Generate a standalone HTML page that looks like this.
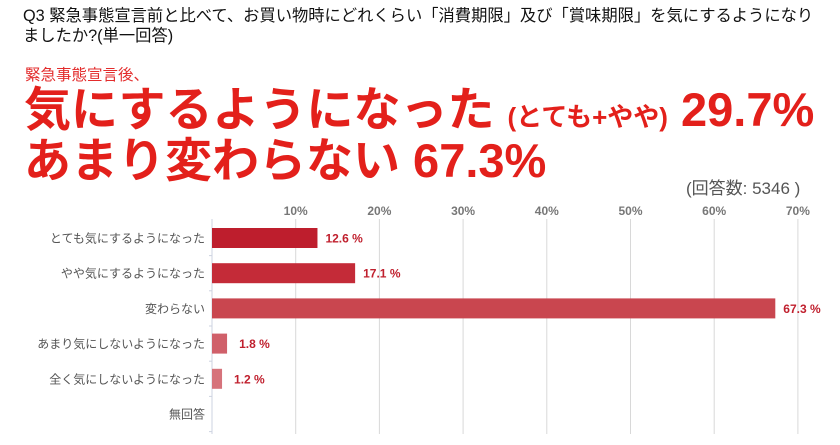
<!DOCTYPE html>
<html><head><meta charset="utf-8"><style>
body{margin:0;width:840px;height:445px;background:#fff;overflow:hidden;position:relative;font-family:"Liberation Sans","Noto Sans CJK JP",sans-serif}
.t{position:absolute;white-space:nowrap}
</style></head><body>
<div class="t" style="left:23px;top:6px;font-size:16.3px;line-height:20px;color:#111">Q3 緊急事態宣言前と比べて、お買い物時にどれくらい「消費期限」及び「賞味期限」を気にするようになり<br>ましたか?(単一回答)</div>
<div class="t" style="left:25px;top:63px;font-size:15.5px;color:#e32c2c">緊急事態宣言後、</div>
<div class="t" style="left:24px;top:83px;font-size:47px;font-weight:bold;color:#e3201b;line-height:54px">気にするようになった <span style="font-size:26px">(とても+やや)</span> 29.7%</div>
<div class="t" style="left:24px;top:134px;font-size:47px;font-weight:bold;color:#e3201b;line-height:54px">あまり変わらない 67.3%</div>
<div class="t" style="left:686px;top:174px;font-size:17px;color:#555">(回答数: 5346 )</div>
<svg id="c" width="840" height="445" style="position:absolute;left:0;top:0"></svg>
<script>
const categories=["とても気にするようになった","やや気にするようになった","変わらない","あまり気にしないようになった","全く気にしないようになった","無回答"];
const values=[12.6,17.1,67.3,1.8,1.2,0];
const labels=["12.6 %","17.1 %","67.3 %","1.8 %","1.2 %",""];
const ticks=[10,20,30,40,50,60,70];
const colors=["#be1e2d","#c42b38","#c9464f","#d0606a","#d6737b","#d6737b"];
const NS="http://www.w3.org/2000/svg",svg=document.getElementById('c');
const x=v=>212+v*8.37, y=i=>238+i*35.2;
function mk(t,a){const e=document.createElementNS(NS,t);for(const k in a)e.setAttribute(k,a[k]);svg.appendChild(e);return e;}
ticks.forEach(t=>{
 const l=mk('line',{x1:x(t),x2:x(t),y1:219,y2:434,stroke:'#d8d8d8','stroke-width':1});
 
 
 const tx=mk('text',{x:x(t),y:215,'text-anchor':'middle','font-size':12,'font-weight':'bold',fill:'#777'});
 tx.textContent=t+'%';
 
 
});
const ax=mk('line',{x1:212,x2:212,y1:219,y2:434,stroke:'#cdd3e0','stroke-width':1});


categories.forEach((c,i)=>{
 const tk=mk('line',{x1:209,x2:212,y1:y(i)+17.6,y2:y(i)+17.6,stroke:'#cdd3e0'});
 
 
 const t=mk('text',{x:205,y:y(i)+4.5,'text-anchor':'end','font-size':12,fill:'#555'});
 t.textContent=c;
 
 
 if(values[i]>0){
  const r=mk('rect',{x:212,y:y(i)-10,width:x(values[i])-212,height:20,fill:colors[i]});
  
  
  const v=mk('text',{x:x(values[i])+(values[i]<3?12:8),y:y(i)+4.5,'font-size':12,'font-weight':'bold',fill:'#c0202e'});
  v.textContent=labels[i];
  
  
 }
});
</script>
</body></html>
